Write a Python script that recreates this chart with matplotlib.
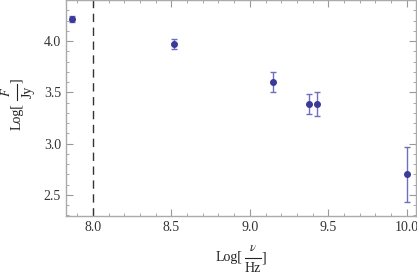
import matplotlib
matplotlib.use("Agg")
import matplotlib.pyplot as plt
from matplotlib.lines import Line2D
from matplotlib.ticker import MultipleLocator

plt.rcParams["font.family"] = "Liberation Serif"
plt.rcParams["mathtext.fontset"] = "stix"

# data
log_nu = [7.866, 8.516, 9.145, 9.38, 9.43, 10.0]
log_flux = [4.215, 3.97, 3.598, 3.385, 3.385, 2.70]
flux_err = [0.025, 0.05, 0.098, 0.095, 0.115, 0.27]
cut_nu = 8.0

W, H = 417, 276
fig = plt.figure(figsize=(W / 100, H / 100), dpi=100)
ax = fig.add_axes([0.158, 0.217, 0.840, 0.783])


def px(x, y):
    # pixel position from the top-left corner -> figure fraction
    return x / W, 1 - y / H


def frac_label(xc, yc, num, den, vertical=False):
    """Mathematica-like Log[num/den] label, centred on the fraction bar."""
    kw = dict(fontsize=10, color="#222222", ha="center", va="center")
    nkw = dict(kw, fontsize=9)
    if not vertical:
        fig.text(*px(xc - 3, yc), "Log[", fontsize=10, color="#222222", ha="right", va="center")
        fig.text(*px(xc + 8, yc - 10), num, **nkw)
        fig.text(*px(xc + 8, yc + 11), den, **kw)
        fig.text(*px(xc + 17, yc), "]", fontsize=10, color="#222222", ha="left", va="center")
        x0, y0 = px(xc, yc)
        x1, _ = px(xc + 16, yc)
        fig.add_artist(Line2D([x0, x1], [y0, y0], color="#222222", lw=0.8, transform=fig.transFigure))
    else:
        fig.text(*px(xc, yc + 3), "Log[", fontsize=10, color="#222222", ha="center", va="top", rotation=90)
        fig.text(*px(xc - 10, yc - 8), num, rotation=90, **nkw)
        fig.text(*px(xc + 11, yc - 8), den, rotation=90, **kw)
        fig.text(*px(xc, yc - 17), "]", fontsize=10, color="#222222", ha="center", va="bottom", rotation=90)
        x0, y0 = px(xc, yc)
        _, y1 = px(xc, yc - 16)
        fig.add_artist(Line2D([x0, x0], [y0, y1], color="#222222", lw=0.8, transform=fig.transFigure))


ax.errorbar(log_nu, log_flux, yerr=flux_err, fmt="o", color="#3a3a98",
            ecolor="#6f6fc0", elinewidth=1.0, capsize=2.5, capthick=1.0,
            markersize=4)
ax.axvline(cut_nu, color="#333333", linestyle=(0, (6, 4)), linewidth=1.0)

ax.set_xlim(7.828, 10.06)
ax.set_ylim(2.294, 4.40)
ax.xaxis.set_major_locator(MultipleLocator(0.5))
ax.xaxis.set_minor_locator(MultipleLocator(0.1))
ax.yaxis.set_major_locator(MultipleLocator(0.5))
ax.yaxis.set_minor_locator(MultipleLocator(0.1))
ax.xaxis.set_major_formatter(plt.FuncFormatter(lambda v, p: f"{v:.1f}"))
ax.yaxis.set_major_formatter(plt.FuncFormatter(lambda v, p: f"{v:.1f}"))
ax.tick_params(which="both", direction="in", top=True, right=True,
               color="#999999", labelsize=10, labelcolor="#333333")
ax.tick_params(which="major", length=5, width=0.8)
ax.tick_params(which="minor", length=2.5, width=0.6)
for s in ax.spines.values():
    s.set_color("#aaaaaa")
    s.set_linewidth(1.0)

frac_label(245, 258, r"$\nu$", "Hz")
frac_label(17, 100, r"$F$", "Jy", vertical=True)

fig.savefig("out.png", dpi=100)
